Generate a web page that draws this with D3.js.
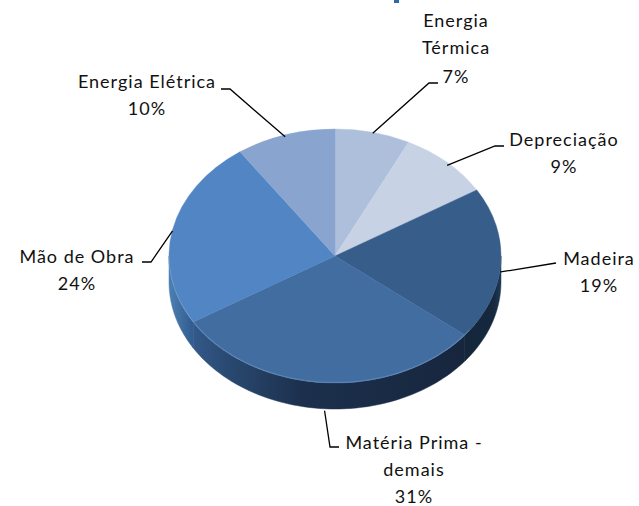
<!DOCTYPE html>
<html>
<head>
<meta charset="utf-8">
<script src="https://cdnjs.cloudflare.com/ajax/libs/d3/7.8.5/d3.min.js"></script>
<style>
  html, body { margin: 0; padding: 0; background: #fff; }
  svg { display: block; }
  text { font-family: Lato, "Open Sans", sans-serif; font-size: 18px; letter-spacing: 1px; fill: #111; }
</style>
</head>
<body>
<div id="chart"></div>
<script>
// data, clockwise from 12 o'clock
// shares are estimated from the slice edges, the printed labels are rounded
var categories = ["Energia Térmica", "Depreciação", "Madeira", "Matéria Prima - demais", "Mão de Obra", "Energia Elétrica"];
var shares = [7.3, 9, 19.4, 30.6, 24, 9.7];
var labelLines = [["Energia", "Térmica", "7%"], ["Depreciação", "9%"], ["Madeira", "19%"], ["Matéria Prima -", "demais", "31%"], ["Mão de Obra", "24%"], ["Energia Elétrica", "10%"]];

// styles and layout
var topColors = ["#aebfdc", "#c7d3e5", "#375d8a", "#426da1", "#5185c3", "#89a5cf"];
var wallStops = [
    [],
    [],
    [[0, "#14263a"], [0.8, "#15283e"], [1, "#1f3b58"]],
    [[0, "#33598a"], [0.12, "#2a4a72"], [0.4, "#1c304d"], [1, "#17263d"]],
    [[0, "#4d80b4"], [0.6, "#3d6a9c"], [1, "#2f5b8e"]],
    []
];
var labelLayout = [
    { x: 456, y: 27, dy: [0, 27, 56], elbow: [429, 83], end: [438, 83], startDy: 1 },
    { x: 564, y: 146, dy: [0, 27], elbow: [495, 146], end: [504, 146], startDy: 3 },
    { x: 599, y: 265, dy: [0, 27], elbow: [556, 263], end: [556, 263], startDy: 8 },
    { x: 414, y: 449, dy: [0, 27, 54], elbow: [330, 447], end: [339, 447], startDy: 28 },
    { x: 77, y: 263, dy: [0, 27], elbow: [151, 262], end: [142, 262], startDy: 1 },
    { x: 147, y: 88, dy: [0, 27], elbow: [230, 89], end: [221, 89], startDy: 2 }
];

var width = 639;
var height = 506;
var cx = 335, cy = 256;
var rx = 166, ry = 127, depth = 26;

var svg = d3.select("#chart").append("svg")
    .attr("width", width)
    .attr("height", height);

var defs = svg.append("defs");

// the ellipse is a circle squashed by a y scale
var sx = d3.scaleLinear().domain([-1, 1]).range([cx - rx, cx + rx]);
var sy = d3.scaleLinear().domain([-1, 1]).range([cy - ry, cy + ry]);

var pie = d3.pie().sort(null).value(function (d) { return d; });
var slices = pie(shares);

function rimX(a) { return sx(Math.sin(a)); }
function rimY(a) { return sy(-Math.cos(a)); }

// bit of a cut off title at the top edge of the picture
svg.append("rect")
    .attr("x", 394)
    .attr("y", 0)
    .attr("width", 5)
    .attr("height", 3)
    .attr("fill", "#2f6aa8");

// side wall, only the front half of the ellipse
var line = d3.line().x(function (d) { return d[0]; }).y(function (d) { return d[1]; });

slices.forEach(function (s, i) {
    var a0 = Math.max(s.startAngle, Math.PI / 2);
    var a1 = Math.min(s.endAngle, Math.PI * 1.5);
    if (a1 <= a0) return;

    var front = d3.range(0, 61).map(function (k) {
        var a = a0 + (a1 - a0) * k / 60;
        return [rimX(a), rimY(a)];
    });
    var back = front.map(function (p) { return [p[0], p[1] + depth]; }).reverse();

    // gradient runs left to right on screen
    var grad = defs.append("linearGradient")
        .attr("id", "wall" + i)
        .attr("gradientUnits", "userSpaceOnUse")
        .attr("x1", Math.min(rimX(a0), rimX(a1))).attr("y1", 0)
        .attr("x2", Math.max(rimX(a0), rimX(a1))).attr("y2", 0);
    wallStops[i].forEach(function (st) {
        grad.append("stop").attr("offset", st[0]).attr("stop-color", st[1]);
    });

    svg.append("path")
        .attr("class", "wall")
        .attr("d", line(front.concat(back)) + "Z")
        .attr("fill", "url(#wall" + i + ")")
        .attr("stroke", "url(#wall" + i + ")")
        .attr("stroke-width", 0.5);
});

// top of the pie
var arc = d3.arc().innerRadius(0).outerRadius(rx);
svg.append("g")
    .attr("transform", "translate(" + cx + "," + cy + ") scale(1," + (ry / rx) + ")")
    .selectAll("path")
    .data(slices)
    .enter().append("path")
    .attr("class", "slice")
    .attr("d", arc)
    .attr("fill", function (d, i) { return topColors[i]; })
    .attr("stroke", function (d, i) { return topColors[i]; })
    .attr("stroke-width", 0.5);

// soft highlight along the front edge
var rimPts = d3.range(0, 61).map(function (k) {
    var a = Math.PI * 0.7 + Math.PI * 0.8 * k / 60;
    return [rimX(a), rimY(a) - 0.5];
});
svg.append("path")
    .attr("d", line(rimPts))
    .attr("fill", "none")
    .attr("stroke", "#7ea3d2")
    .attr("stroke-opacity", 0.4)
    .attr("stroke-width", 1.2);

// leader lines start on the rim at the middle of each slice
slices.forEach(function (s, i) {
    var mid = (s.startAngle + s.endAngle) / 2;
    var l = labelLayout[i];
    var start = [rimX(mid), rimY(mid) + l.startDy];
    svg.append("path")
        .attr("d", line([start, l.elbow, l.end]))
        .attr("fill", "none")
        .attr("stroke", "#000")
        .attr("stroke-width", 1.3);
});

// labels
labelLines.forEach(function (lines, i) {
    var l = labelLayout[i];
    lines.forEach(function (t, j) {
        svg.append("text")
            .attr("x", l.x)
            .attr("y", l.y + l.dy[j])
            .attr("text-anchor", "middle")
            .text(t);
    });
});
</script>
</body>
</html>
